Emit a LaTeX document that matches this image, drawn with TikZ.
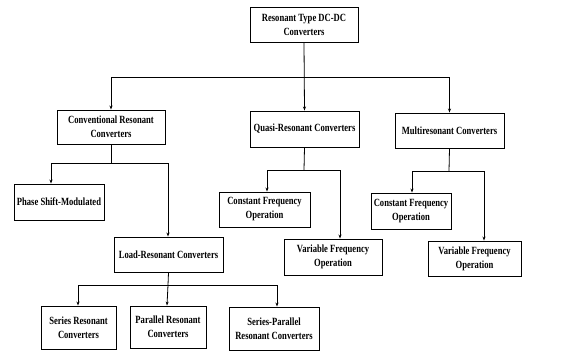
\documentclass[tikz,border=0pt]{standalone}
\usepackage{fontspec}
\setmainfont[FakeStretch=0.78]{Liberation Serif}
\usetikzlibrary{arrows.meta,calc}
\begin{document}
\begin{tikzpicture}[x=1pt,y=-1pt,
  box/.style={draw,line width=0.9pt,align=center,inner sep=1pt,
    font=\fontsize{11}{14}\selectfont\bfseries},
  arr/.style={-{Stealth[length=4pt,width=3pt]},line width=0.8pt},
  ln/.style={line width=0.8pt}]
\useasboundingbox (0,0) rectangle (570,354);
\node[box,minimum width=108pt,minimum height=35pt] (top) at (304,24.5) {Resonant Type DC-DC\\Converters};
\node[box,minimum width=108pt,minimum height=34pt] (conv) at (111,127) {Conventional Resonant\\Converters};
\node[box,minimum width=109pt,minimum height=36pt] (quasi) at (304.5,129) {Quasi-Resonant Converters};
\node[box,minimum width=109pt,minimum height=35pt] (multi) at (449.5,130.5) {Multiresonant Converters};
\node[box,minimum width=90pt,minimum height=36pt] (phase) at (59,202) {Phase Shift-Modulated};
\node[box,minimum width=109pt,minimum height=35pt] (load) at (168.5,254.5) {Load-Resonant Converters};
\node[box,minimum width=91pt,minimum height=35pt] (qc) at (264.5,209.5) {Constant Frequency\\Operation};
\node[box,minimum width=98pt,minimum height=36pt] (qv) at (333,257) {Variable Frequency\\Operation};
\node[box,minimum width=80pt,minimum height=36pt] (mc) at (411,211) {Constant Frequency\\Operation};
\node[box,minimum width=93pt,minimum height=35pt] (mv) at (474.5,258.5) {Variable Frequency\\Operation};
\node[box,minimum width=75pt,minimum height=43pt] (ser) at (78.5,327.5) {Series Resonant\\Converters};
\node[box,minimum width=76pt,minimum height=42pt] (par) at (168,327) {Parallel Resonant\\Converters};
\node[box,minimum width=90pt,minimum height=43pt] (sp) at (274,328.5) {Series-Parallel\\Resonant Converters};
\coordinate (j1) at (304,77);
\coordinate (j2) at (111,163);
\coordinate (j3) at (304,170);
\coordinate (j4) at (449,171);
\coordinate (j5) at (168,285);
\draw[arr] (top.south) -- (quasi.north);
\draw[arr] (j1) -| (conv.north);
\draw[arr] (j1) -| (multi.north);
\draw[ln] (conv.south) -- (j2);
\draw[arr] (j2) -| ([xshift=-8pt]phase.north);
\draw[arr] (j2) -| ([xshift=-0.5pt]load.north);
\draw[ln] (quasi.south) -- (j3);
\draw[arr] (j3) -| ([xshift=2.5pt]qc.north);
\draw[arr] (j3) -| ([xshift=7pt]qv.north);
\draw[ln] (multi.south) -- (j4);
\draw[arr] (j4) -| ([xshift=1pt]mc.north);
\draw[arr] (j4) -| ([xshift=9.5pt]mv.north);
\draw[ln] (load.south) -- (j5);
\draw[arr] (j5) -| ([xshift=-0.5pt]ser.north);
\draw[arr] (j5) -- ([xshift=-1pt]par.north);
\draw[arr] (j5) -| ([xshift=3pt]sp.north);
\end{tikzpicture}
\end{document}
